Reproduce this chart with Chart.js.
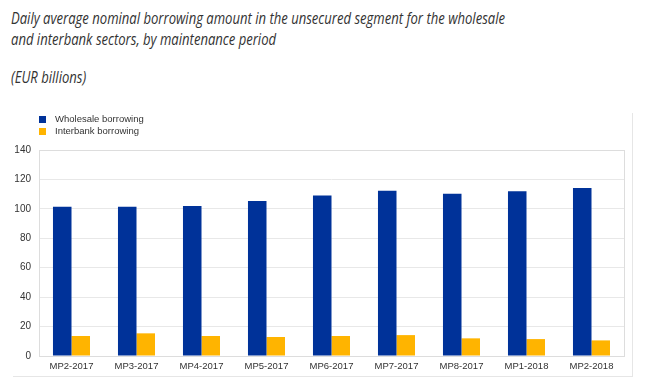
<!DOCTYPE html>
<html>
<head>
<meta charset="utf-8">
<script src="https://cdn.jsdelivr.net/npm/chart.js@4"></script>
<style>
  html, body { margin: 0; padding: 0; background: #fff; }
  body { width: 651px; height: 387px; position: relative; overflow: hidden; }
  .title {
    position: absolute; left: 11px; margin: 0;
    font-family: "Open Sans", sans-serif; font-style: italic; font-size: 16px;
    line-height: 21px; color: #333; white-space: nowrap; transform-origin: 0 0;
  }
  #t1 { top: 8px; }
  #t2 { top: 67px; }
  .frame {
    position: absolute; left: 13px; top: 113px; width: 619px; height: 263px;
    border-right: 1px solid #e6e6e6; border-bottom: 1px solid #e6e6e6;
  }
  .chart-box { position: absolute; left: 0; top: 100px; width: 651px; height: 287px; }
  #legend {
    position: absolute; left: 39px; top: 113px;
    font-family: "Liberation Sans", Arial, sans-serif; font-size: 9.5px; color: #333;
  }
  #legend .item { height: 12px; line-height: 12px; white-space: nowrap; }
  #legend .box { display: inline-block; width: 7px; height: 7px; margin-right: 9px; vertical-align: -0.5px; }
</style>
</head>
<body>
<p class="title" id="t1">Daily average nominal borrowing amount in the unsecured segment for the wholesale<br>and interbank sectors, by maintenance period</p>
<p class="title" id="t2">(EUR billions)</p>
<div class="frame"></div>
<div class="chart-box"><canvas id="chart"></canvas></div>
<div id="legend"></div>
<script>
const periods = ["MP2-2017", "MP3-2017", "MP4-2017", "MP5-2017", "MP6-2017", "MP7-2017", "MP8-2017", "MP1-2018", "MP2-2018"];
const wholesale = [101.5, 101.5, 101.9, 105.3, 109.0, 112.3, 110.3, 112.0, 114.1];
const interbank = [13.6, 15.4, 13.6, 12.9, 13.6, 14.2, 12.0, 11.5, 10.6];
const yTicks = [0, 20, 40, 60, 80, 100, 120, 140];

const BLUE = "#003299";
const YELLOW = "#FFB400";
const grid = "#e8e8e8";
const axis = "#333";

// squeeze the title to the width it has in the original (condensed look)
const t1 = document.getElementById("t1");
const sx = 494 / t1.getBoundingClientRect().width;
document.querySelectorAll(".title").forEach(t => { t.style.transform = "scaleX(" + sx + ")"; });

// light frame round the plot area
const areaFrame = {
  id: "areaFrame",
  afterDatasetsDraw(chart) {
    const a = chart.chartArea, ctx = chart.ctx;
    ctx.save();
    ctx.strokeStyle = "#dddddd";
    ctx.lineWidth = 1;
    ctx.strokeRect(Math.round(a.left) + 0.5, Math.round(a.top) + 0.5,
      Math.round(a.right - a.left), Math.round(a.bottom - a.top));
    ctx.restore();
  }
};

const chart = new Chart(document.getElementById("chart").getContext("2d"), {
  type: "bar",
  data: {
    labels: periods,
    datasets: [
      { label: "Wholesale borrowing", data: wholesale, backgroundColor: BLUE },
      { label: "Interbank borrowing", data: interbank, backgroundColor: YELLOW }
    ]
  },
  options: {
    responsive: true,
    maintainAspectRatio: false,
    animation: false,
    datasets: { bar: { barPercentage: 1, categoryPercentage: 0.57 } },
    layout: { padding: { top: 50, right: 27, bottom: 0, left: 0 } },
    plugins: { legend: { display: false }, tooltip: { enabled: false } },
    scales: {
      x: {
        grid: { display: false, drawTicks: false },
        border: { display: false },
        ticks: {
          color: axis, padding: 5, maxRotation: 0, autoSkip: false,
          font: { family: "'Liberation Sans', Arial, sans-serif", size: 9.5 }
        },
        afterFit: s => { s.height = 31; }
      },
      y: {
        min: 0, max: 140,
        grid: { color: grid, drawTicks: false },
        border: { display: false },
        afterBuildTicks: s => { s.ticks = yTicks.map(v => ({ value: v })); },
        ticks: {
          color: axis, padding: 8,
          font: { family: "'Liberation Sans', Arial, sans-serif", size: 10 }
        },
        afterFit: s => { s.width = 39; }
      }
    }
  },
  plugins: [areaFrame]
});

// legend stacked vertically, built from the chart's own items
const lg = document.getElementById("legend");
chart.options.plugins.legend.labels.generateLabels(chart).forEach(it => {
  const row = document.createElement("div");
  row.className = "item";
  const b = document.createElement("span");
  b.className = "box";
  b.style.background = it.fillStyle;
  row.appendChild(b);
  row.appendChild(document.createTextNode(it.text));
  lg.appendChild(row);
});
</script>
</body>
</html>
